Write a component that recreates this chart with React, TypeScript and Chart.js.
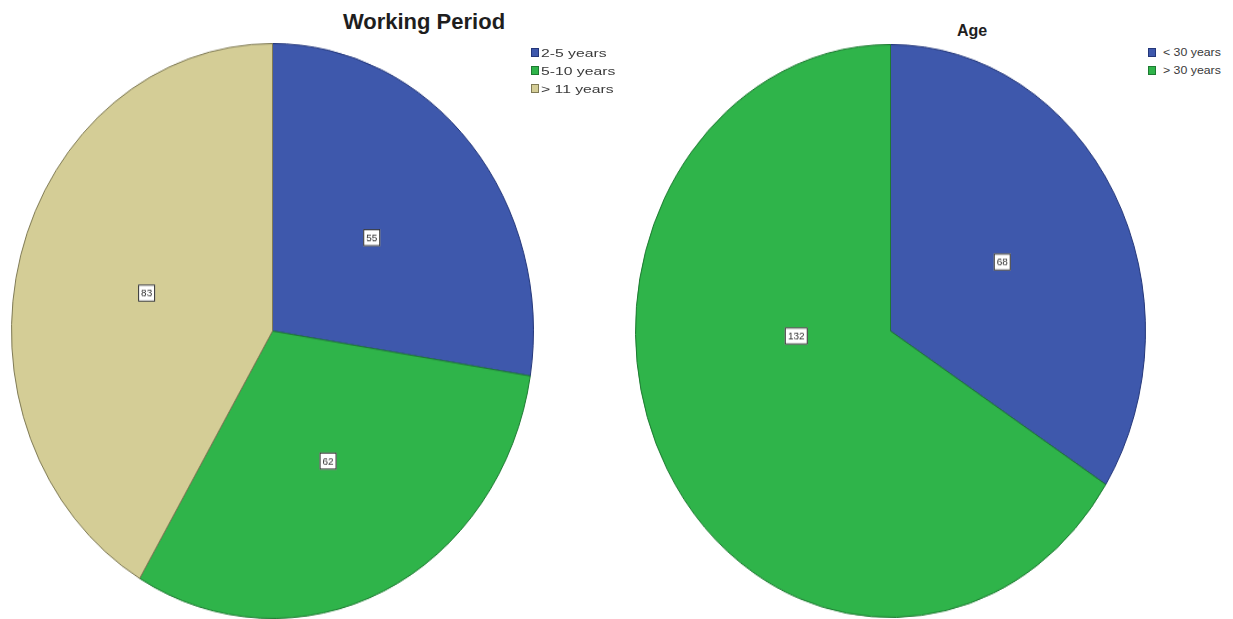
import React, { useEffect, useRef } from "react";
import { Chart, registerables } from "chart.js";

Chart.register(...registerables);

// ---- data ----
const workingTitle = "Working Period";
const workingLabels = ["2-5 years", "5-10 years", "> 11 years"];
const workingValues = [55, 62, 83];
const workingColors = ["#3e58ac", "#2fb44a", "#d4cd96"];
const workingBorders = ["#24377a", "#1d7a31", "#7f7a55"];

const ageTitle = "Age";
const ageLabels = ["< 30 years", "> 30 years"];
const ageValues = [68, 132];
const ageColors = ["#3e58ac", "#2fb44a"];
const ageBorders = ["#24377a", "#1d7a31"];

const FONT = '"Liberation Sans", Arial, Helvetica, sans-serif';

type PieProps = {
  labels: string[];
  values: number[];
  colors: string[];
  borders: string[];
  left: number;
  top: number;
  size: number;
  cssHeight: number;
};

function EllipsePie({ labels, values, colors, borders, left, top, size, cssHeight }: PieProps) {
  const ref = useRef<HTMLCanvasElement | null>(null);
  useEffect(() => {
    const canvas = ref.current;
    if (!canvas) return;
    const k = cssHeight / size;
    const boxLabels = {
      id: "boxLabels",
      afterDatasetsDraw(chart: any) {
        const ctx = chart.ctx as CanvasRenderingContext2D;
        const meta = chart.getDatasetMeta(0);
        const data = chart.data.datasets[0].data as number[];
        meta.data.forEach((arc: any, i: number) => {
          const props = arc.getProps(["x", "y", "startAngle", "endAngle", "outerRadius"], false);
          let p = arc.tooltipPosition(false);
          if (props.endAngle - props.startAngle > Math.PI) {
            // large slice: label sits nearer the centre, on the free side
            const a = props.endAngle - 0.515 * Math.PI;
            const r = 0.37 * props.outerRadius;
            p = { x: props.x + Math.cos(a) * r, y: props.y + Math.sin(a) * r };
          }
          const t = String(data[i]);
          ctx.save();
          ctx.translate(p.x, p.y);
          ctx.scale(1, 1 / k);
          ctx.font = `10px ${FONT}`;
          const w = Math.round(ctx.measureText(t).width + 6);
          const h = 17;
          ctx.fillStyle = "#ffffff";
          ctx.fillRect(-w / 2, -h / 2, w, h);
          ctx.strokeStyle = "#2a2a2a";
          ctx.lineWidth = 1;
          ctx.strokeRect(-w / 2 + 0.5, -h / 2 + 0.5, w - 1, h - 1);
          ctx.fillStyle = "#333333";
          ctx.textAlign = "center";
          ctx.textBaseline = "middle";
          ctx.fillText(t, 0, 1);
          ctx.restore();
        });
      },
    };
    const chart = new Chart(canvas, {
      type: "pie",
      data: {
        labels,
        datasets: [
          {
            data: values,
            backgroundColor: colors,
            borderColor: borders,
            borderWidth: 1,
          },
        ],
      },
      options: {
        responsive: false,
        animation: false,
        events: [],
        layout: { padding: 0 },
        plugins: {
          legend: { display: false },
          tooltip: { enabled: false },
          title: { display: false },
        },
      },
      plugins: [boxLabels],
    });
    return () => chart.destroy();
  }, []);
  return (
    <div style={{ position: "absolute", left, top, width: size, height: cssHeight }}>
      <canvas
        ref={ref}
        width={size}
        height={size}
        style={{ width: size + "px", height: cssHeight + "px", display: "block" }}
      />
    </div>
  );
}

type LegendProps = {
  labels: string[];
  colors: string[];
  borders: string[];
  boxLeft: number;
  textLeft: number;
  firstCenter: number;
  step: number;
  fontSize: number;
  stretch: number;
};

function Legend({ labels, colors, borders, boxLeft, textLeft, firstCenter, step, fontSize, stretch }: LegendProps) {
  return (
    <>
      {labels.map((l, i) => {
        const c = firstCenter + i * step;
        return (
          <React.Fragment key={l}>
            <div
              style={{
                position: "absolute",
                left: boxLeft,
                top: c - 4.5,
                width: 8,
                height: 9,
                boxSizing: "border-box",
                background: colors[i],
                border: `1px solid ${borders[i]}`,
              }}
            />
            <div
              style={{
                position: "absolute",
                left: textLeft,
                top: c - 7,
                height: 14,
                lineHeight: "14px",
                fontFamily: FONT,
                fontSize,
                color: "#3a3a3a",
                whiteSpace: "nowrap",
                transform: `scaleX(${stretch})`,
                transformOrigin: "0 50%",
              }}
            >
              {l}
            </div>
          </React.Fragment>
        );
      })}
    </>
  );
}

export default function App() {
  return (
    <div
      style={{
        position: "absolute",
        left: 0,
        top: 0,
        width: 1233,
        height: 619,
        background: "#ffffff",
        overflow: "hidden",
      }}
    >
      <div
        style={{
          position: "absolute",
          left: 324,
          top: 11,
          width: 200,
          textAlign: "center",
          fontFamily: FONT,
          fontWeight: "bold",
          fontSize: 22,
          lineHeight: "22px",
          color: "#1e1e1e",
          whiteSpace: "nowrap",
        }}
      >
        {workingTitle}
      </div>
      <div
        style={{
          position: "absolute",
          left: 922,
          top: 23,
          width: 100,
          textAlign: "center",
          fontFamily: FONT,
          fontWeight: "bold",
          fontSize: 16,
          lineHeight: "16px",
          color: "#1e1e1e",
          whiteSpace: "nowrap",
        }}
      >
        {ageTitle}
      </div>

      <EllipsePie
        labels={workingLabels}
        values={workingValues}
        colors={workingColors}
        borders={workingBorders}
        left={11}
        top={43}
        size={523}
        cssHeight={576}
      />
      <EllipsePie
        labels={ageLabels}
        values={ageValues}
        colors={ageColors}
        borders={ageBorders}
        left={635}
        top={44}
        size={511}
        cssHeight={574}
      />

      <Legend
        labels={workingLabels}
        colors={workingColors}
        borders={workingBorders}
        boxLeft={531}
        textLeft={540.5}
        firstCenter={52.5}
        step={18}
        fontSize={11}
        stretch={1.43}
      />
      <Legend
        labels={ageLabels}
        colors={ageColors}
        borders={ageBorders}
        boxLeft={1148}
        textLeft={1163}
        firstCenter={52}
        step={18}
        fontSize={11}
        stretch={1.12}
      />
    </div>
  );
}
